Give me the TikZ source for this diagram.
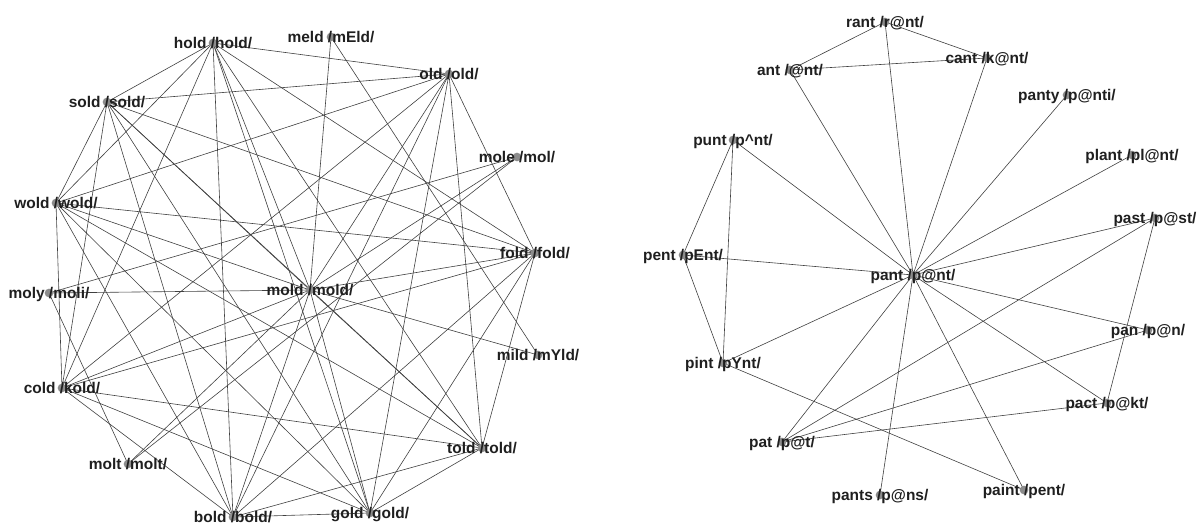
\documentclass[tikz,border=0pt]{standalone}
\usepackage{fontspec}
\setmainfont{Liberation Sans}
\tikzstyle{vdot} = [circle,fill=black!45,inner sep=0pt,minimum size=6.5pt]
\tikzstyle{vlabel} = [anchor=base,yshift=-4.1pt,inner sep=0pt,font=\fontsize{11.6}{13}\selectfont\bfseries,text=black!88]
\tikzstyle{edge} = [draw=black!75,line width=0.45pt]
\def\leftwords{hold/hold/213/43, sold/sold/107/102, wold/wold/56/203, meld/mEld/331/37,
  old/old/449/74, mole/mol/517/157, fold/fold/535/253, moly/moli/49/293, cold/kold/62/388,
  molt/molt/128/464, bold/bold/233/517, mold/mold/310/290, mild/mYld/538/355,
  told/told/482/448, gold/gold/370/513}
\def\rightwords{rant/r@nt/885/22, ant/@nt/790/70, cant/k@nt/987/58, punt/p\textasciicircum nt/733/140,
  panty/p@nti/1067/95, plant/pl@nt/1132/155, past/p@st/1155/218, pent/pEnt/683/255,
  pant/p@nt/913/275, pint/pYnt/723/363, pan/p@n/1148/330, pact/p@kt/1107/403,
  pat/p@t/782/442, pants/p@ns/880/495, paint/pent/1024/490}

\begin{document}
\begin{tikzpicture}[x=0.75pt,y=-0.75pt]
  \useasboundingbox (0,0) rectangle (1202,527);
  \foreach \w/\p/\x/\y in \leftwords {\coordinate (\w) at (\x,\y);}
  \foreach \w/\p/\x/\y in \rightwords {\coordinate (\w) at (\x,\y);}
  % left: the -old words all touch each other
  \foreach \a [count=\i] in {hold,sold,wold,fold,cold,told,bold,gold,old,mold}
    \foreach \b [count=\j] in {hold,sold,wold,fold,cold,told,bold,gold,old,mold}
      {\ifnum\j>\i \draw [edge] (\a) -- (\b); \fi}
  \foreach \a/\b in {meld/mold, meld/mild, mole/mold, mole/molt, mole/moly,
    moly/mold, moly/molt, molt/mold, mild/mold}
    \draw [edge] (\a) -- (\b);
  % right: star round pant
  \foreach \a in {rant,ant,cant,punt,panty,plant,past,pent,pint,pan,pact,pat,pants,paint}
    \draw [edge] (pant) -- (\a);
  \foreach \a/\b in {rant/ant, rant/cant, ant/cant, punt/pent, punt/pint, pent/pint,
    pint/paint, pat/past, pat/pan, pat/pact, past/pact}
    \draw [edge] (\a) -- (\b);
  % dots and labels on top
  \foreach \w/\p/\x/\y in \leftwords {
    \node [vdot] (\w-dot) at (\w) {};
    \node [vlabel] (\w-lab) at (\w) {\w\ /\p/};
  }
  \foreach \w/\p/\x/\y in \rightwords {
    \node [vdot] (\w-dot) at (\w) {};
    \node [vlabel] (\w-lab) at (\w) {\w\ /\p/};
  }
\end{tikzpicture}
\end{document}
